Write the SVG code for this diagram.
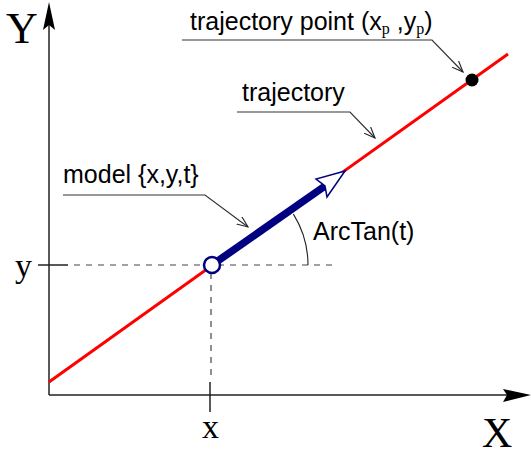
<svg xmlns="http://www.w3.org/2000/svg" width="531" height="456" viewBox="0 0 531 456">
<defs>
<style>
.sans{font-family:"Liberation Sans",Arial,sans-serif;font-size:25px;fill:#000}
.serif{font-family:"Liberation Serif","Times New Roman",serif;fill:#000}
.axis{stroke:#222;stroke-width:1.5;fill:none}
.dash{stroke:#444;stroke-width:1.2;stroke-dasharray:6 6;fill:none}
.leader{stroke:#333;stroke-width:1.2;fill:none}
</style>
<marker id="vee" viewBox="0 0 12 10" refX="11" refY="5" markerWidth="12" markerHeight="10" markerUnits="userSpaceOnUse" orient="auto">
<path d="M0,0.5 L11,5 L0,9.5" fill="none" stroke="#222" stroke-width="1.1"/>
</marker>
</defs>
<rect width="531" height="456" fill="#fff"/>
<g id="axes">
<line class="axis" x1="49" y1="395" x2="49" y2="22"/>
<polygon points="49,2 43,30 49,25 55,30" fill="#000"/>
<line class="axis" x1="49" y1="395" x2="510" y2="395"/>
<polygon points="531,395 503,389 507,395 503,402" fill="#000"/>
<text class="serif" x="6" y="43" font-size="44">Y</text>
<text class="serif" x="482" y="447" font-size="42">X</text>
</g>
<g id="ticks">
<line class="axis" x1="38" y1="265" x2="68" y2="265" stroke-width="1.2"/>
<line class="dash" x1="74" y1="265" x2="337" y2="265"/>
<line class="axis" x1="210" y1="382" x2="210" y2="412" stroke-width="1.2"/>
<line class="dash" x1="211" y1="273" x2="211" y2="378"/>
<text class="serif" x="15" y="277" font-size="34">y</text>
<text class="serif" x="202" y="438" font-size="34">x</text>
</g>
<g id="trajectory">
<line x1="49" y1="382" x2="508" y2="54" stroke="#ff0000" stroke-width="3"/>
</g>
<g id="trajectory-point">
<circle cx="472" cy="80" r="6.5" fill="#000"/>
</g>
<g id="model">
<line x1="212" y1="265" x2="325" y2="186" stroke="#000080" stroke-width="7.5"/>
<polygon points="345,171 316,179 325,186 327,197" fill="#fff" stroke="#000080" stroke-width="1.5" stroke-linejoin="miter"/>
<circle cx="212" cy="265" r="8" fill="#fff" stroke="#000080" stroke-width="2.5"/>
</g>
<g id="angle">
<path d="M293.4,214.1 A96,96 0 0 1 308,265" fill="none" stroke="#222" stroke-width="1.1"/>
<text class="sans" x="313" y="240">ArcTan(t)</text>
</g>
<g id="connectors">
<path class="leader" d="M182,40 H432 L463,72" marker-end="url(#vee)"/>
<path class="leader" d="M237,112 H350 L375,138" marker-end="url(#vee)"/>
<path class="leader" d="M63,195 H205 L248,227" marker-end="url(#vee)"/>
</g>
<g id="labels">
<text class="sans" x="190" y="30">trajectory point (x<tspan class="serif" font-size="16" dy="4">p</tspan><tspan dy="-4"> ,y</tspan><tspan class="serif" font-size="16" dy="4">p</tspan><tspan dy="-4">)</tspan></text>
<text class="sans" x="242" y="101">trajectory</text>
<text class="sans" x="63" y="183">model {x,y,t}</text>
</g>
</svg>
